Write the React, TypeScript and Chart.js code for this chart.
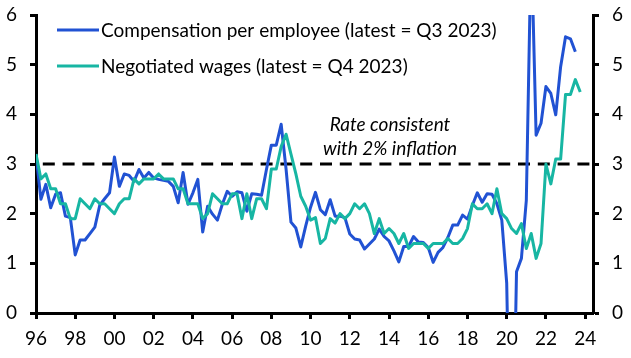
import React, { useEffect, useRef } from 'react';
import { Chart, registerables } from 'chart.js';

Chart.register(...registerables);

// Quarterly data, first value = 1996 Q1
const startYear = 1996;

// Compensation per employee, % y/y (latest = Q3 2023)
const compensation = [
  3.19, 2.29, 2.59, 2.12,
  2.39, 2.42, 1.95, 1.92,
  1.17, 1.47, 1.47, 1.6,
  1.73, 2.17, 2.3, 2.42,
  3.14, 2.55, 2.8, 2.77,
  2.65, 2.89, 2.72, 2.83,
  2.72, 2.69, 2.67, 2.65,
  2.55, 2.22, 2.83, 2.19,
  2.42, 2.69, 1.63, 2.15,
  1.99, 1.87, 2.19, 2.45,
  2.35, 2.44, 2.42, 2.05,
  2.4, 2.39, 2.37, 2.89,
  3.38, 3.38, 3.8, 2.9,
  1.83, 1.71, 1.33, 1.75,
  2.13, 2.43, 2.08, 1.98,
  2.28, 1.95, 1.95, 1.92,
  1.59, 1.49, 1.47, 1.29,
  1.39, 1.49, 1.69, 1.54,
  1.45, 1.25, 1.03, 1.34,
  1.34, 1.54, 1.43, 1.42,
  1.32, 1.02, 1.22, 1.32,
  1.52, 1.77, 1.77, 1.97,
  1.89, 2.17, 2.42, 2.23,
  2.4, 2.39, 2.2, 1.87,
  0.6, -4.5, 0.83, 1.1,
  2.27, 7.5, 3.58, 3.82,
  4.56, 4.42, 3.99, 4.96,
  5.56, 5.52, 5.26,
];

// Negotiated wages, % y/y (latest = Q4 2023)
const negotiated = [
  3.2, 2.7, 2.8, 2.5,
  2.5, 2.2, 2.2, 1.9,
  1.9, 2.3, 2.2, 2.1,
  2.3, 2.2, 2.2, 2.1,
  2.0, 2.2, 2.3, 2.3,
  2.7, 2.6, 2.7, 2.7,
  2.7, 2.8, 2.7, 2.7,
  2.7, 2.5, 2.5, 2.2,
  2.2, 2.2, 1.9, 2.0,
  2.4, 2.3, 2.2, 2.2,
  2.4, 2.4, 1.9, 2.4,
  1.9, 2.3, 2.3, 2.1,
  2.9, 2.9, 3.35, 3.6,
  3.2, 2.8, 2.35, 2.15,
  1.87, 1.92, 1.4, 1.5,
  1.9, 1.81, 2.0, 1.9,
  2.0, 2.2, 2.1, 2.2,
  2.0, 1.6, 1.9, 1.6,
  1.7, 1.6, 1.4, 1.6,
  1.3, 1.4, 1.4, 1.4,
  1.3, 1.4, 1.4, 1.4,
  1.5, 1.4, 1.4, 1.5,
  1.7, 2.2, 2.1, 2.1,
  2.2, 2.0, 2.5, 2.0,
  1.9, 1.7, 1.6, 1.8,
  1.3, 1.6, 1.1, 1.4,
  3.0, 2.6, 3.1, 3.1,
  4.4, 4.4, 4.7, 4.45,
];

const xTickYears = [1996, 1998, 2000, 2002, 2004, 2006, 2008, 2010, 2012, 2014, 2016, 2018, 2020, 2022, 2024];
const yTickValues = [0, 1, 2, 3, 4, 5, 6];
const seriesLabels = ['Compensation per employee (latest = Q3 2023)', 'Negotiated wages (latest = Q4 2023)'];
const annotationLines = ['Rate consistent', 'with 2% inflation'];
const targetRate = 3;

const BLUE = '#2152d3';
const TEAL = '#17b6a3';
const FONT = 'Lato';
const FONT_SIZE = 19;

function toPoints(values: number[]) {
  return values.map((v, i) => ({ x: startYear + i / 4, y: v }));
}

const overlayPlugin = {
  id: 'overlay',
  beforeDatasetsDraw(chart: any) {
    const { ctx, chartArea, scales } = chart;
    const y = scales.y.getPixelForValue(targetRate);
    ctx.save();
    ctx.strokeStyle = '#000';
    ctx.lineWidth = 3;
    ctx.setLineDash([12, 7.8]);
    ctx.lineDashOffset = 13;
    ctx.beginPath();
    ctx.moveTo(chartArea.left, y);
    ctx.lineTo(chartArea.right, y);
    ctx.stroke();
    ctx.restore();
  },
  afterDraw(chart: any) {
    const { ctx, chartArea, scales } = chart;
    ctx.save();
    // legend
    const colors = [BLUE, TEAL];
    seriesLabels.forEach((label, i) => {
      const y = chartArea.top + 15 + i * 36;
      ctx.strokeStyle = colors[i];
      ctx.lineWidth = 3;
      ctx.setLineDash([]);
      ctx.beginPath();
      ctx.moveTo(chartArea.left + 21, y);
      ctx.lineTo(chartArea.left + 63, y);
      ctx.stroke();
      ctx.fillStyle = '#000';
      ctx.font = `${FONT_SIZE}px ${FONT}`;
      ctx.textAlign = 'left';
      ctx.textBaseline = 'middle';
      ctx.fillText(label, chartArea.left + 65, y + 1);
    });
    // annotation
    const yLine = scales.y.getPixelForValue(targetRate);
    const xc = scales.x.getPixelForValue(2014.05);
    ctx.font = `italic ${FONT_SIZE}px ${FONT}`;
    ctx.textAlign = 'center';
    ctx.textBaseline = 'middle';
    ctx.fillStyle = '#000';
    annotationLines.forEach((t, i) => {
      ctx.fillText(t, xc, yLine - 39 + i * 24);
    });
    ctx.restore();
  },
};

export default function App() {
  const canvasRef = useRef<HTMLCanvasElement | null>(null);

  useEffect(() => {
    const canvas = canvasRef.current;
    if (!canvas) return;
    const font = { family: FONT, size: FONT_SIZE };
    const grid = {
      display: true,
      drawOnChartArea: false,
      drawTicks: true,
      tickLength: 6,
      tickWidth: 3,
      tickColor: '#000',
    };
    const border = { display: true, color: '#000', width: 3 };
    const yAxis = (position: 'left' | 'right', width: number) => ({
      type: 'linear' as const,
      position,
      min: 0,
      max: 6,
      afterBuildTicks: (s: any) => {
        s.ticks = yTickValues.map((v) => ({ value: v }));
      },
      ticks: { font, color: '#000', padding: 13 },
      grid,
      border,
      afterFit: (s: any) => {
        s.width = width;
        s.paddingTop = 0;
        s.paddingBottom = 0;
      },
    });

    const chart = new Chart(canvas, {
      type: 'line',
      data: {
        datasets: [
          {
            label: seriesLabels[0],
            data: toPoints(compensation),
            borderColor: BLUE,
            backgroundColor: BLUE,
            borderWidth: 3,
            pointRadius: 0,
            tension: 0,
            clip: 0,
            borderJoinStyle: 'round',
            order: 2,
          },
          {
            label: seriesLabels[1],
            data: toPoints(negotiated),
            borderColor: TEAL,
            backgroundColor: TEAL,
            borderWidth: 3,
            pointRadius: 0,
            tension: 0,
            clip: 0,
            borderJoinStyle: 'round',
            order: 1,
          },
        ],
      },
      options: {
        animation: false,
        responsive: false,
        devicePixelRatio: 1,
        layout: { padding: { top: 15, left: 0, right: 0, bottom: 0 } },
        plugins: {
          legend: { display: false },
          tooltip: { enabled: false },
        },
        scales: {
          x: {
            type: 'linear',
            min: 1996,
            max: 2024.4,
            afterBuildTicks: (s: any) => {
              s.ticks = xTickYears.map((v) => ({ value: v }));
            },
            ticks: {
              font,
              color: '#000',
              padding: 8,
              autoSkip: false,
              maxRotation: 0,
              callback: (v: any) => String(Number(v) % 100).padStart(2, '0'),
            },
            grid,
            border,
            afterFit: (s: any) => {
              s.height = 45;
              s.paddingLeft = 0;
              s.paddingRight = 0;
            },
          },
          y: yAxis('left', 36),
          y2: yAxis('right', 38),
        },
      },
      plugins: [overlayPlugin],
    } as any);

    return () => chart.destroy();
  }, []);

  return (
    <div style={{ position: 'absolute', left: 0, top: 0, width: 631, height: 358, background: '#fff' }}>
      <canvas ref={canvasRef} width={631} height={358} />
    </div>
  );
}
